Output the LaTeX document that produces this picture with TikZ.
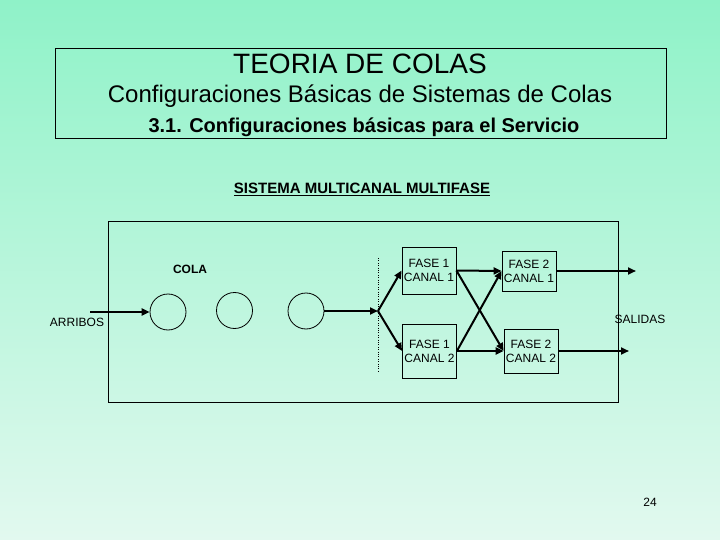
\documentclass[tikz,border=0pt]{standalone}
\usepackage{fontspec}
\setmainfont{Liberation Sans}
\usetikzlibrary{arrows.meta}
\definecolor{fondoarriba}{RGB}{143,242,200}
\definecolor{fondoabajo}{RGB}{226,249,239}
\tikzset{
  fase/.style={draw, line width=0.8pt, minimum width=54pt, inner sep=0pt, align=center,
    font=\fontsize{12}{14}\selectfont},
  cliente/.style={draw, circle, minimum size=36pt, inner sep=0pt, line width=0.8pt},
  flecha/.style={line width=2pt, -{Triangle[length=8pt,width=7pt]}},
  rotulo/.style={font=\fontsize{12}{14}\selectfont},
}
\begin{document}
\begin{tikzpicture}[x=1pt,y=-1pt]
    % Fondo
    \shade[top color=fondoarriba, bottom color=fondoabajo] (0,0) rectangle (720,540);
    \useasboundingbox (0,0) rectangle (720,540);

    % Titulo
    \draw[line width=0.8pt] (55,48) rectangle (666,138);
    \node (titulo) at (360,64) {\fontsize{28}{32}\selectfont TEORIA DE COLAS};
    \node (subtitulo) at (360,96) {\fontsize{24}{28}\selectfont Configuraciones Básicas de Sistemas de Colas};
    \node (seccion) at (364,127) {\fontsize{20}{24}\selectfont\bfseries 3.1. Configuraciones básicas para el Servicio};
    \node (sistema) at (362,189) {\fontsize{15}{18}\selectfont\bfseries\underline{SISTEMA MULTICANAL MULTIFASE}};

    % Caja del sistema
    \draw[line width=1pt] (108,222) rectangle (618,402);
    \draw[dotted] (378,258) -- (378,372);

    % Cola
    \node[rotulo, font=\fontsize{12}{14}\selectfont\bfseries] (cola) at (190,269) {COLA};
    \node[cliente] (c1) at (168,312) {};
    \node[cliente] (c2) at (234.5,310.5) {};
    \node[cliente] (c3) at (306,311) {};

    % Servidores
    \node[fase, minimum height=47pt] (f1c1) at (429,270.5) {FASE 1\\CANAL 1};
    \node[fase, minimum height=54pt] (f1c2) at (429.5,351) {FASE 1\\CANAL 2};
    \node[fase, minimum height=40pt] (f2c1) at (529,271) {FASE 2\\CANAL 1};
    \node[fase, minimum height=44pt] (f2c2) at (531,351) {FASE 2\\CANAL 2};

    % Entradas y salidas
    \coordinate (entrada) at (90,312);
    \coordinate (reparto) at (378,311);
    \coordinate (s1) at (636,271);
    \coordinate (s2) at (629,351);
    \node[rotulo] (arribos) at (77,322) {ARRIBOS};
    \node[rotulo] (salidas) at (640,319) {SALIDAS};

    % Flechas
    \draw[flecha] (entrada) -- (c1);
    \draw[flecha] (c3) -- (reparto);
    \draw[flecha] (reparto) -- (f1c1.west);
    \draw[flecha] (reparto) -- (f1c2.west);
    \draw[flecha] (f1c1.east) -- (f2c1.west);
    \draw[flecha] (f1c1.east) -- (f2c2.west);
    \draw[flecha] (f1c2.east) -- (f2c1.west);
    \draw[flecha] (f1c2.east) -- (f2c2.west);
    \draw[flecha] (f2c1.east) -- (s1);
    \draw[flecha] (f2c2.east) -- (s2);

    % Pagina
    \node[rotulo] (pagina) at (650,502) {24};
\end{tikzpicture}
\end{document}
